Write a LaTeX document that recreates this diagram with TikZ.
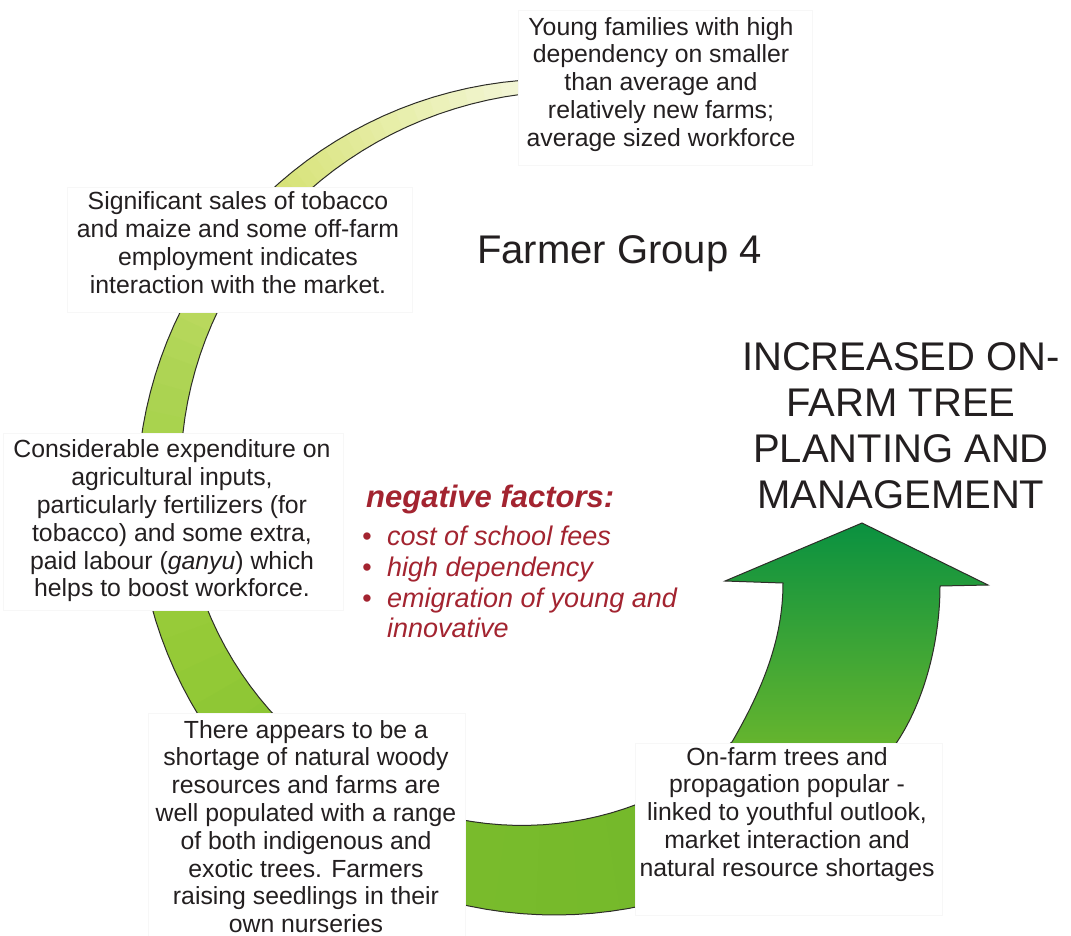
\documentclass[tikz,border=0pt]{standalone}
\usepackage{fontspec}
\setmainfont{Liberation Sans}
\definecolor{txt}{RGB}{35,31,32}
\definecolor{negred}{RGB}{163,36,48}
\definecolor{edge}{RGB}{45,45,40}
\definecolor{boxline}{RGB}{247,247,247}
\definecolor{g0}{RGB}{246,248,226}
\definecolor{g1}{RGB}{230,237,165}
\definecolor{g2}{RGB}{214,226,118}
\definecolor{g3}{RGB}{175,213,85}
\definecolor{g4}{RGB}{150,203,56}
\definecolor{g5}{RGB}{122,188,44}
\definecolor{g6}{RGB}{112,183,42}
\definecolor{arrtop}{RGB}{10,145,64}
\definecolor{arrbot}{RGB}{120,188,42}
\begin{document}
\begin{tikzpicture}[x=1pt,y=-1pt,
  declare function={rin(\a)=318+0.453*(\a-75)+8*sin((\a-75)/190*180);},
  whitebox/.style={fill=white,draw=boxline,line width=0.8pt},
  body/.style={text=txt,align=center,inner sep=0pt,font=\fontsize{24.8}{27.8}\selectfont},
  big/.style={text=txt,align=center,inner sep=0pt,font=\fontsize{40}{46}\selectfont},
  negtitle/.style={text=negred,inner sep=0pt,anchor=base west,font=\fontsize{31}{36}\selectfont\bfseries\itshape},
  negitem/.style={text=negred,inner sep=0pt,anchor=base west,font=\fontsize{27}{31}\selectfont\itshape},
  outline/.style={draw=edge,line width=1pt}]
\useasboundingbox (0,0) rectangle (1071,935);
\fill[white] (0,0) rectangle (1071,935);

% circular band with gradient along the arc
\begin{scope}
  \clip plot[domain=275:58,samples=90] ({555+418*cos(\x)},{497+418*sin(\x)})
     -- plot[domain=58:275,samples=90] ({555+rin(\x)*cos(\x)},{497+rin(\x)*sin(\x)}) -- cycle;
  \foreach \a/\b/\ca/\cb in {285/270/g0/g0,270/245/g0/g1,245/228/g1/g2,228/200/g2/g3,200/160/g3/g4,160/110/g4/g5,110/52/g5/g6}{
    \foreach \k in {0,...,9}{
      \pgfmathsetmacro\pa{\a+(\b-\a)*\k/10}
      \pgfmathsetmacro\pb{\a+(\b-\a)*(\k+1.4)/10}
      \pgfmathtruncatemacro\tt{\k*10+5}
      \colorlet{tmpc}{\cb!\tt!\ca}
      \fill[tmpc,shift={(555,497)}] (0,0) -- (\pa:470) -- (\pb:470) -- cycle;
    }
  }
\end{scope}
\draw[outline] plot[domain=275:58,samples=90] ({555+418*cos(\x)},{497+418*sin(\x)});
\draw[outline] plot[domain=275:58,samples=90] ({555+rin(\x)*cos(\x)},{497+rin(\x)*sin(\x)});

% arrow
\coordinate (sl) at (732,742);
\coordinate (sr) at (897,742);
\shadedraw[top color=arrtop,bottom color=arrbot,draw=edge,line width=1pt]
  (691,772) -- (sl) .. controls (762,690) and (783,640) .. (783,583)
  -- (725,581) -- (862,523) -- (988,585) -- (940,586)
  .. controls (940,640) and (925,700) .. (sr) -- (862,791) -- cycle;

% white boxes
\node[whitebox,minimum width=294pt,minimum height=155pt,inner sep=0pt] (bx1) at (665,87.5) {};
\node[whitebox,minimum width=345pt,minimum height=125pt,inner sep=0pt] (bx2) at (239.5,249.5) {};
\node[whitebox,minimum width=340pt,minimum height=177pt,inner sep=0pt] (bx3) at (173,521.5) {};
\node[whitebox,minimum width=317pt,minimum height=240pt,inner sep=0pt] (bx4) at (306.5,833) {};
\node[whitebox,minimum width=307pt,minimum height=172pt,inner sep=0pt] (bx5) at (788.5,829) {};

% texts
\node[body] (t1) at (661,84.2) {Young families with high\\dependency on smaller\\than average and\\relatively new farms;\\average sized workforce};
\node[body] (t2) at (238,242.7) {Significant sales of tobacco\\and maize and some off-farm\\employment indicates\\interaction with the market.};
\node[body] (t3) at (172,521) {Considerable expenditure on\\agricultural inputs,\\particularly fertilizers (for\\tobacco) and some extra,\\paid labour (\textit{ganyu}) which\\helps to boost workforce.};
\node[body] (t4) at (306,826.5) {There appears to be a\\shortage of natural woody\\resources and farms are\\well populated with a range\\of both indigenous and\\exotic trees. Farmers\\raising seedlings in their\\own nurseries};
\node[body] (t5) at (787,814.2) {On-farm trees and\\propagation popular -\\linked to youthful outlook,\\market interaction and\\natural resource shortages};

\node[big,anchor=base] (fg) at (619.5,263) {Farmer Group 4};
\node[big] (inc) at (901,426.2) {INCREASED ON-\\FARM TREE\\PLANTING AND\\MANAGEMENT};

\node[negtitle] (nf0) at (366,507) {negative factors:};
\node[negitem] (nb1) at (362,545) {•};
\node[negitem] (nf1) at (387,545) {cost of school fees};
\node[negitem] (nb2) at (362,576) {•};
\node[negitem] (nf2) at (387,576) {high dependency};
\node[negitem] (nb3) at (362,607) {•};
\node[negitem] (nf3) at (387,607) {emigration of young and};
\node[negitem] (nf4) at (387,637) {innovative};
\end{tikzpicture}
\end{document}
